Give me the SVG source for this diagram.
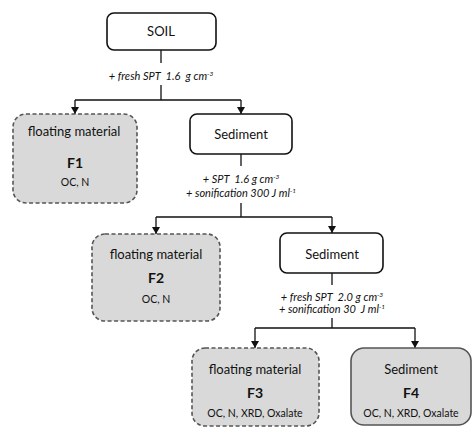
<svg xmlns="http://www.w3.org/2000/svg" width="473" height="431" viewBox="0 0 473 431">
<defs>
<marker id="ah" markerWidth="7" markerHeight="8" refX="7" refY="4" orient="auto" markerUnits="userSpaceOnUse" viewBox="0 0 7 8">
<path d="M0,0 L7,4 L0,8 Z" fill="#111"/>
</marker>
</defs>
<style>
.box{fill:#fff;stroke:#111;stroke-width:1.6}
.frac{fill:#d9d9d9;stroke:#555;stroke-width:1.6;stroke-dasharray:4 2.5}
.fsed{fill:#d9d9d9;stroke:#555;stroke-width:1.6}
.t{font-family:Lato,"Noto Sans",sans-serif;fill:#111;text-anchor:middle}
.big{font-size:13px}
.name{font-size:13px}
.f{font-size:14px;font-weight:bold}
.an{font-size:10.5px}
.lab{font-family:Lato,"Noto Sans",sans-serif;font-size:11px;font-style:italic;fill:#111;text-anchor:middle;white-space:pre}
.c{fill:none;stroke:#111;stroke-width:1.3}
</style>
<g id="connectors">
<path class="c" d="M161,50 V63 M161,85 V100"/>
<path class="c" d="M75,100 H241 M75,100 V114" marker-end="url(#ah)"/>
<path class="c" d="M241,100 V114" marker-end="url(#ah)"/>
<path class="c" d="M241,154 V166 M241,203 V217"/>
<path class="c" d="M156,217 H332 M156,217 V234" marker-end="url(#ah)"/>
<path class="c" d="M332,217 V233" marker-end="url(#ah)"/>
<path class="c" d="M332,273 V285 M332,318 V328"/>
<path class="c" d="M255,328 H415 M255,328 V348" marker-end="url(#ah)"/>
<path class="c" d="M415,328 V348" marker-end="url(#ah)"/>
<text class="lab" x="161" y="80" xml:space="preserve">+ fresh SPT  1.6  g cm<tspan font-size="6.5" dy="-4">-3</tspan></text>
<text class="lab" x="241" y="183" xml:space="preserve">+ SPT  1.6 g cm<tspan font-size="6.5" dy="-4">-3</tspan></text>
<text class="lab" x="241" y="197" xml:space="preserve">+ sonification 300 J ml<tspan font-size="6.5" dy="-4">-1</tspan></text>
<text class="lab" x="332" y="301" xml:space="preserve">+ fresh SPT  2.0 g cm<tspan font-size="6.5" dy="-4">-3</tspan></text>
<text class="lab" x="332" y="313" xml:space="preserve">+ sonification 30  J ml<tspan font-size="6.5" dy="-4">-1</tspan></text>
</g>
<g id="soil">
<rect class="box" x="107" y="13" width="109" height="37" rx="7"/>
<text class="t big" x="161" y="36">SOIL</text>
</g>
<g id="f1">
<rect class="frac" x="13" y="114" width="124" height="89" rx="13"/>
<text class="t name" x="74" y="136">floating material</text>
<text class="t f" x="75" y="168">F1</text>
<text class="t an" x="75" y="186">OC, N</text>
</g>
<g id="sediment1">
<rect class="box" x="190" y="114" width="102" height="40" rx="7"/>
<text class="t name" x="241" y="139">Sediment</text>
</g>
<g id="f2">
<rect class="frac" x="92" y="234" width="128" height="87" rx="13"/>
<text class="t name" x="156" y="259">floating material</text>
<text class="t f" x="156" y="283">F2</text>
<text class="t an" x="156" y="303">OC, N</text>
</g>
<g id="sediment2">
<rect class="box" x="280" y="233" width="103" height="40" rx="7"/>
<text class="t name" x="332" y="259">Sediment</text>
</g>
<g id="f3">
<rect class="frac" x="192" y="348" width="127" height="78" rx="13"/>
<text class="t name" x="255" y="374">floating material</text>
<text class="t f" x="255" y="398">F3</text>
<text class="t an" x="255" y="417">OC, N, XRD, Oxalate</text>
</g>
<g id="f4">
<rect class="fsed" x="351" y="348" width="120" height="77" rx="13"/>
<text class="t name" x="411" y="374">Sediment</text>
<text class="t f" x="411" y="398">F4</text>
<text class="t an" x="411" y="417">OC, N, XRD, Oxalate</text>
</g>
</svg>
